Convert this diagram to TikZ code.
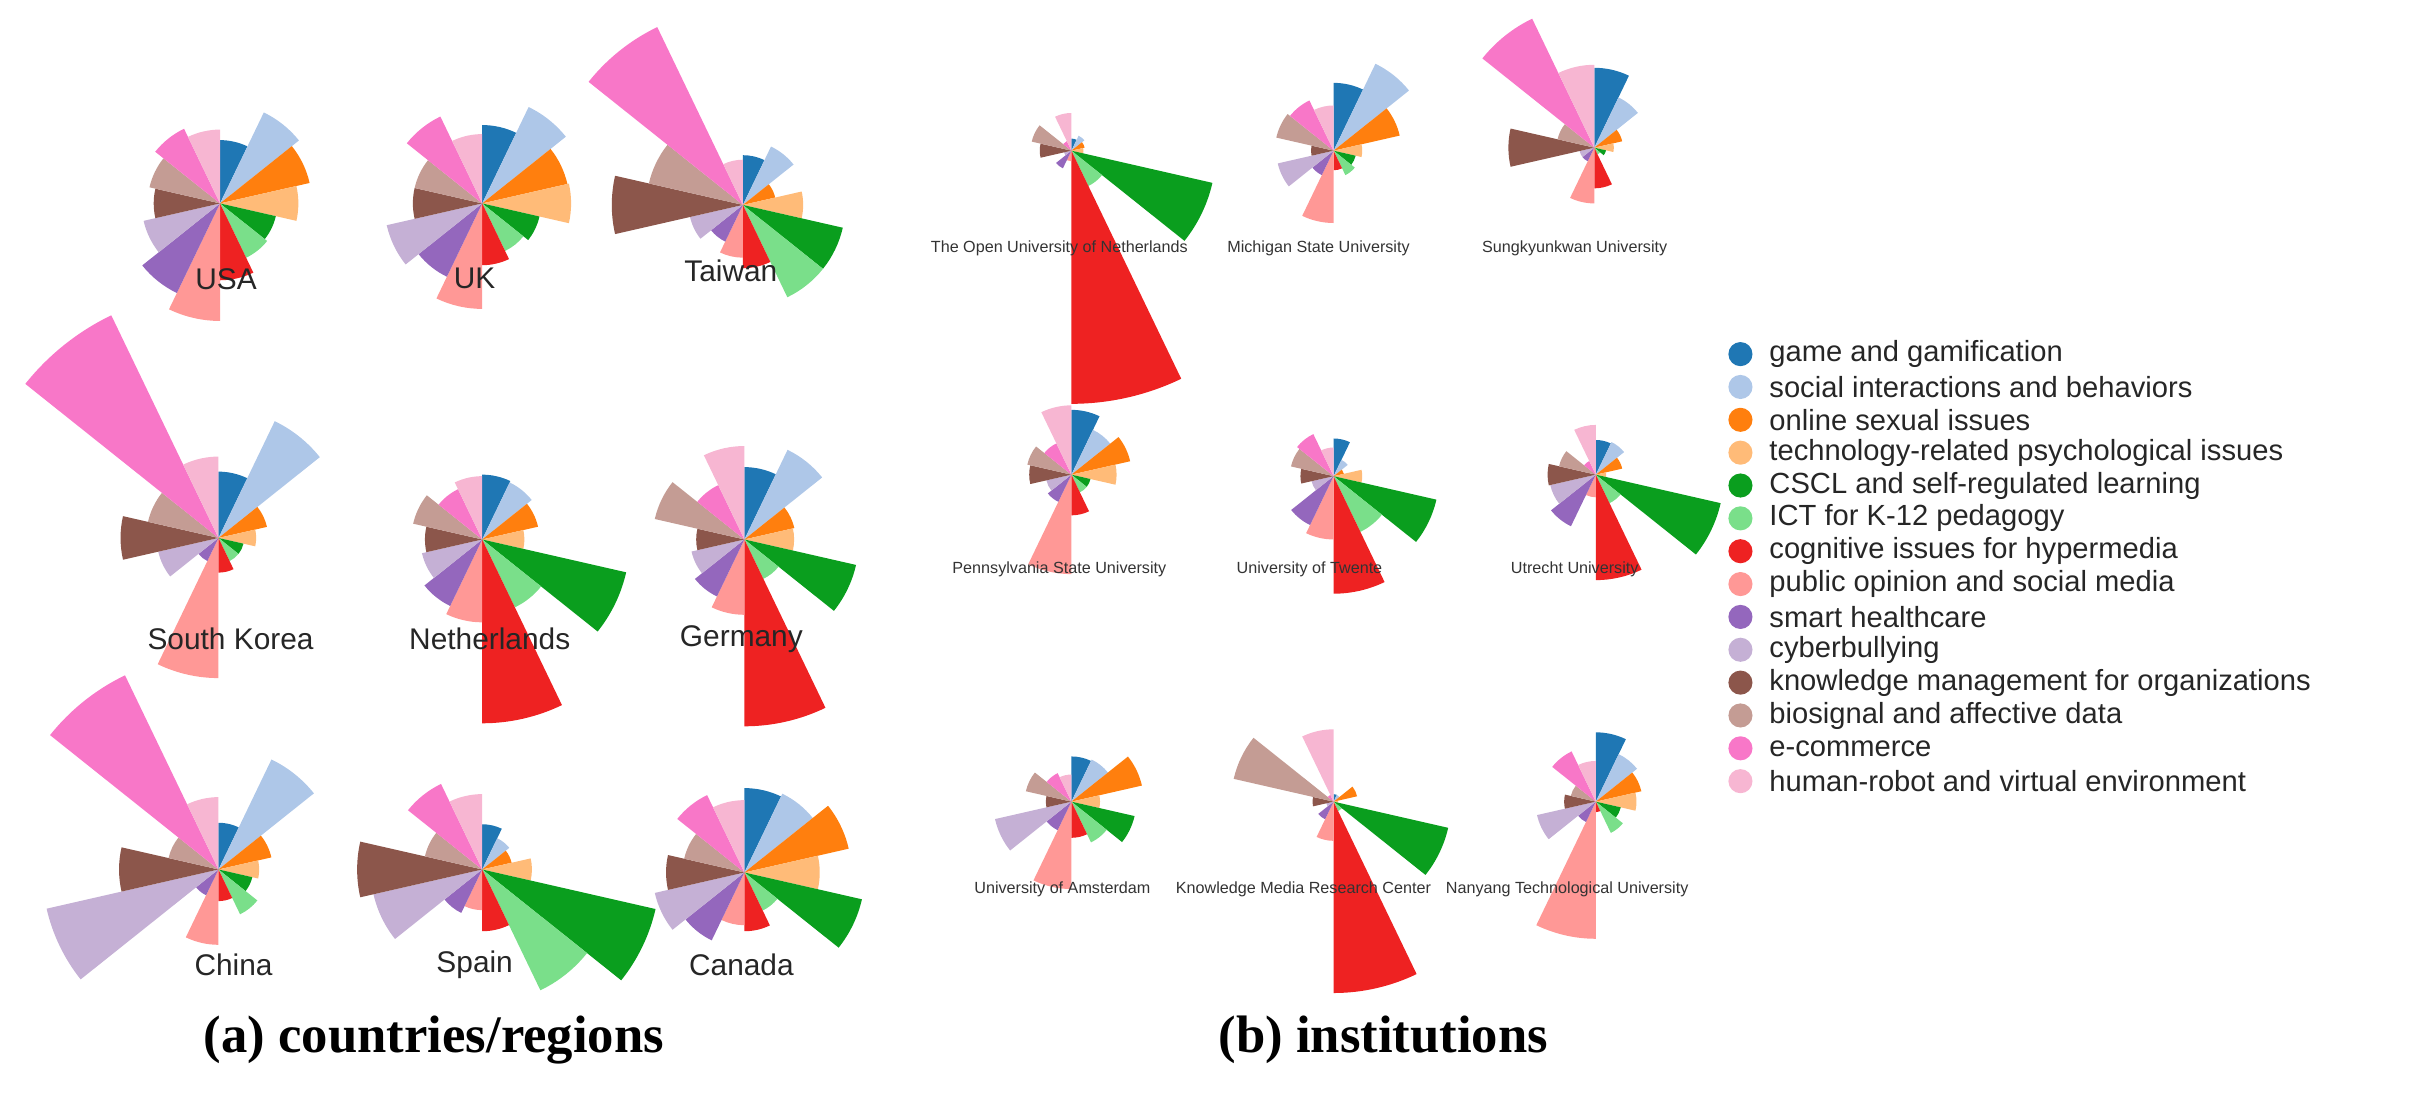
\documentclass[tikz,border=0pt]{standalone}
\usepackage{fontspec}
\setmainfont{Liberation Serif}
\newfontfamily\lsans{Liberation Sans}
\definecolor{c0}{HTML}{1F77B4}
\definecolor{c1}{HTML}{AEC7E8}
\definecolor{c2}{HTML}{FF7F0E}
\definecolor{c3}{HTML}{FFBB78}
\definecolor{c4}{HTML}{0A9E1E}
\definecolor{c5}{HTML}{7ADF8A}
\definecolor{c6}{HTML}{EE2222}
\definecolor{c7}{HTML}{FF9896}
\definecolor{c8}{HTML}{9467BD}
\definecolor{c9}{HTML}{C5B0D5}
\definecolor{c10}{HTML}{8C564B}
\definecolor{c11}{HTML}{C49C94}
\definecolor{c12}{HTML}{F877C8}
\definecolor{c13}{HTML}{F7B6D2}
\newcommand\myrose[3]{%
  \foreach \r [count=\i from 0] in {#3} {%
    \pgfmathsetmacro\sa{90-\i*25.7143}%
    \pgfmathsetmacro\sb{\sa-25.7143}%
    \fill[fill=c\i] (#1,740-#2) -- ++(\sa:\r) arc[start angle=\sa, end angle=\sb, radius=\r] -- cycle;
  }}
\tikzset{
  clab/.style={font=\lsans\fontsize{8.5}{10}\selectfont, text=black!85},
  ilab/.style={font=\lsans\fontsize{4.6}{5}\selectfont, text=black!80},
  ttl/.style={font=\bfseries\fontsize{15}{17}\selectfont},
  leg/.style={font=\lsans\fontsize{8.3}{10}\selectfont, text=black!85, anchor=west}
}
\begin{document}
\begin{tikzpicture}[x=0.01507cm,y=0.01507cm]
\useasboundingbox (0,0) rectangle (1600,740);
% (a) countries
\myrose{146}{135}{42,67,61,52,38,40,51,78,66,52,44,48,55,49}
\myrose{320}{135}{52,71,58,59,39,35,41,70,54,65,46,46,64,46}
\myrose{493}{136}{33,43,22,40,68,68,42,35,27,36,87,64,131,30}
\myrose{145}{357}{44,86,33,25,17,17,23,93,17,41,65,48,164,54}
\myrose{320}{358}{43,42,38,28,98,50,122,55,49,41,38,47,37,42}
\myrose{494}{358}{48,66,34,33,76,29,124,50,42,36,32,61,40,62}
\myrose{145}{577}{31,81,36,27,23,33,21,50,19,117,66,34,143,48}
\myrose{320}{577}{30,23,20,33,118,89,41,27,32,74,83,39,63,50}
\myrose{494}{579}{56,58,71,50,80,28,39,35,50,61,52,41,57,48}
% (b) institutions
\myrose{711}{100}{8,11,9,8,96,26,168,7,13,5,21,27,7,25}
\myrose{885}{100}{45,64,45,19,15,18,13,48,18,38,15,39,37,30}
\myrose{1058}{98}{53,37,19,13,8,5,27,37,10,10,57,25,95,55}
\myrose{711}{315}{43,33,40,30,13,13,27,66,20,17,28,30,23,46}
\myrose{885}{316}{25,12,7,19,70,41,78,42,36,15,22,29,31,19}
\myrose{1059}{315}{23,24,18,7,85,21,70,15,38,31,32,25,10,33}
\myrose{711}{532}{30,31,48,19,43,30,24,58,21,52,17,31,21,18}
\myrose{885}{532}{5,5,16,3,78,7,127,26,13,5,14,68,5,48}
\myrose{1059}{532}{46,35,31,27,17,23,7,91,15,40,21,17,37,27}
% country labels
\node[clab] (lusa) at (150,740-185) {USA};
\node[clab] (luk) at (315,740-185) {UK};
\node[clab] (ltw) at (485,740-180) {Taiwan};
\node[clab] (lsk) at (153,740-424) {South Korea};
\node[clab] (lnl) at (325,740-424) {Netherlands};
\node[clab] (lde) at (492,740-424) {Germany};
\node[clab] (lcn) at (155,740-640) {China};
\node[clab] (les) at (315,740-640) {Spain};
\node[clab] (lca) at (492,740-640) {Canada};
% institution labels
\node[ilab] (i1) at (703,740-165) {The Open University of Netherlands};
\node[ilab] (i2) at (875,740-165) {Michigan State University};
\node[ilab] (i3) at (1045,740-165) {Sungkyunkwan University};
\node[ilab] (i4) at (703,740-378) {Pennsylvania State University};
\node[ilab] (i5) at (869,740-378) {University of Twente};
\node[ilab] (i6) at (1045,740-378) {Utrecht University};
\node[ilab] (i7) at (705,740-590) {University of Amsterdam};
\node[ilab] (i8) at (865,740-590) {Knowledge Media Research Center};
\node[ilab] (i9) at (1040,740-590) {Nanyang Technological University};
% titles
\node[ttl] (ta) at (288,740-690) {(a) countries/regions};
\node[ttl] (tb) at (918,740-690) {(b) institutions};
% legend
\foreach \t [count=\i from 0] in {game and gamification,social interactions and behaviors,online sexual issues,technology-related psychological issues,CSCL and self-regulated learning,ICT for K-12 pedagogy,cognitive issues for hypermedia,public opinion and social media,smart healthcare,cyberbullying,knowledge management for organizations,biosignal and affective data,e-commerce,human-robot and virtual environment} {
  \fill[fill=c\i] (1155,740-235-\i*21.8) circle (8);
  \node[leg] (lg\i) at (1166,740-235-\i*21.8) {\t};
}
\end{tikzpicture}
\end{document}
